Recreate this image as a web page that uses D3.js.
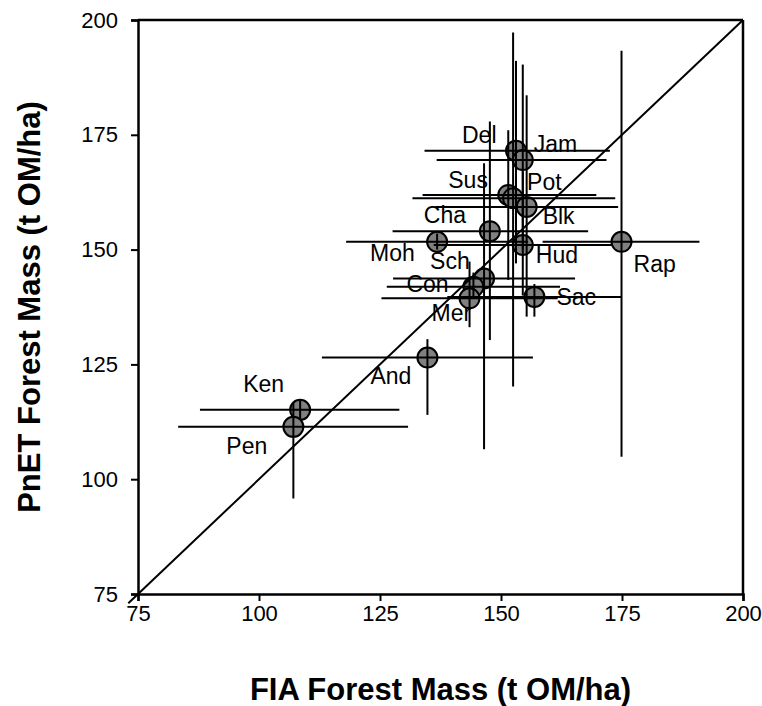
<!DOCTYPE html>
<html><head><meta charset="utf-8">
<script src="https://cdn.jsdelivr.net/npm/d3@7"></script>
<style>
body{margin:0;background:#fff}
svg{display:block}
text{font-family:Arial,"Liberation Sans",sans-serif;fill:#000}
</style>
</head><body>
<svg id="chart" width="762" height="706"></svg>
<script>
// ---- data ----
const sites    = ["Del","Jam","Sus","Pot","Blk","Cha","Moh","Hud","Rap","Sch","Con","Mer","Sac","And","Ken","Pen"];
const fiaMass  = [153.1,154.5,151.5,152.5,155.3,147.7,136.8,154.5,174.9,146.5,144.3,143.5,156.9,134.8,108.5,107.1];
const fiaLow   = [134.2,136.7,133.8,131.7,136.4,127.6,118.0,136.1,158.6,127.7,126.4,125.3,138.9,113.0, 87.8, 83.3];
const fiaHigh  = [172.5,171.8,169.7,173.6,174.2,168.0,155.6,172.9,191.0,165.3,162.2,161.7,174.9,156.6,129.0,130.8];
const pnetMass = [171.5,169.5,161.9,161.2,159.3,154.0,151.7,151.0,151.7,143.7,141.9,139.4,139.7,126.5,115.1,111.4];
const pnetLow  = [147.0,150.0,143.4,120.2,135.4,130.3,150.0,140.0,104.9,106.5,139.5,133.1,135.4,114.0,113.0, 95.8];
const pnetHigh = [191.1,190.3,176.0,197.3,183.6,177.9,153.5,167.0,193.3,168.8,145.0,147.4,142.5,130.5,117.2,116.6];
const tickValues = [75,100,125,150,175,200];
const xTitle = "FIA Forest Mass (t OM/ha)";
const yTitle = "PnET Forest Mass (t OM/ha)";

// ---- layout (label offsets in px from each point) ----
const labelOffset = {
  Del:[-54,-8], Jam:[11,-8], Sus:[-60,-7], Pot:[14,-8], Blk:[16,17], Cha:[-66,-8],
  Moh:[-67,19], Hud:[13,18], Rap:[12,30], Sch:[-54,-10], Con:[-67,5], Sac:[22,8],
  Mer:[-38,23], And:[-57,26], Ken:[-57,-18], Pen:[-67,27]
};

const data = sites.map((s,i)=>({site:s, x:fiaMass[i], xl:fiaLow[i], xh:fiaHigh[i], y:pnetMass[i], yl:pnetLow[i], yh:pnetHigh[i]}));

const svg = d3.select("#chart");
const L=138, R=743, T=20, B=594;
const x = d3.scaleLinear().domain([75,200]).range([L,R]);
const y = d3.scaleLinear().domain([75,200]).range([B,T]);

// frame (top & right)
svg.append("line").attr("x1",L).attr("x2",R).attr("y1",T).attr("y2",T).attr("stroke","#000").attr("stroke-width",2.5);
svg.append("line").attr("x1",R).attr("x2",R).attr("y1",T).attr("y2",B).attr("stroke","#000").attr("stroke-width",2.5);

// axes
const xAxis = svg.append("g").attr("transform",`translate(0,${B})`)
  .call(d3.axisBottom(x).tickValues(tickValues).tickSize(7).tickPadding(4).tickFormat(d3.format("d")));
const yAxis = svg.append("g").attr("transform",`translate(${L},0)`)
  .call(d3.axisLeft(y).tickValues(tickValues).tickSize(7).tickPadding(13).tickFormat(d3.format("d")));
[xAxis,yAxis].forEach(g=>{
  g.select(".domain").attr("stroke","#000").attr("stroke-width",2.5);
  g.selectAll(".tick line").attr("stroke","#000").attr("stroke-width",2);
  g.selectAll(".tick text").style("font-size","22px").attr("fill","#000");
});

// points
svg.append("g").selectAll("circle").data(data).join("circle")
  .attr("cx",d=>x(d.x)).attr("cy",d=>y(d.y)).attr("r",10)
  .attr("fill","#808080").attr("stroke","#000").attr("stroke-width",2);

// error bars
const eb = svg.append("g").attr("stroke","#000").attr("stroke-width",2);
eb.selectAll("line.h").data(data).join("line").attr("class","h")
  .attr("x1",d=>x(d.xl)).attr("x2",d=>x(d.xh)).attr("y1",d=>y(d.y)).attr("y2",d=>y(d.y));
eb.selectAll("line.v").data(data).join("line").attr("class","v")
  .attr("x1",d=>x(d.x)).attr("x2",d=>x(d.x)).attr("y1",d=>y(d.yl)).attr("y2",d=>y(d.yh));

// 1:1 line
svg.append("line").attr("x1",x(73)).attr("y1",y(73)).attr("x2",x(200)).attr("y2",y(200))
  .attr("stroke","#000").attr("stroke-width",2);

// labels
svg.append("g").selectAll("text").data(data).join("text")
  .attr("x",d=>x(d.x)+labelOffset[d.site][0]).attr("y",d=>y(d.y)+labelOffset[d.site][1])
  .style("font-size","23px").text(d=>d.site);

// titles
svg.append("text").attr("x",(L+R)/2).attr("y",700).attr("text-anchor","middle")
  .style("font-size","31px").style("font-weight","bold").text(xTitle);
svg.append("text").attr("transform",`translate(40,${(T+B)/2}) rotate(-90)`).attr("text-anchor","middle")
  .style("font-size","31px").style("font-weight","bold").text(yTitle);
</script>
</body></html>
